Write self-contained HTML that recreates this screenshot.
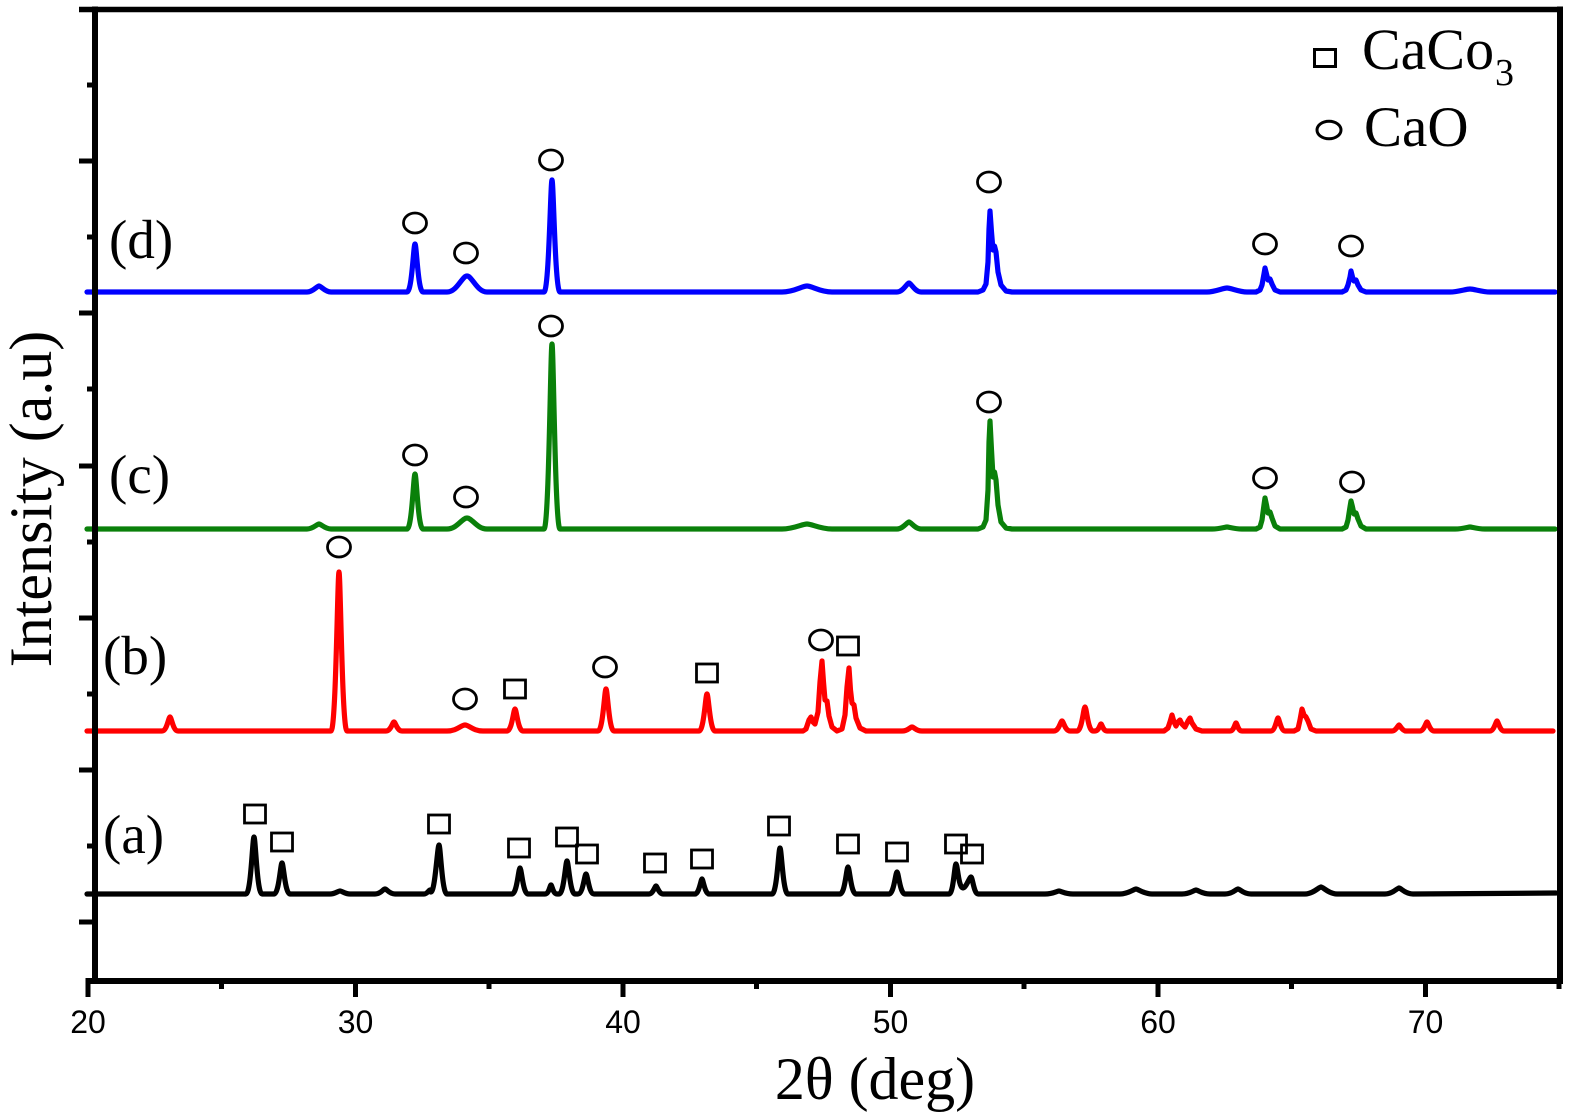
<!DOCTYPE html>
<html>
<head>
<meta charset="utf-8">
<style>
  html,body{margin:0;padding:0;background:#fff;}
  svg{display:block;}
  .serif{font-family:"Liberation Serif","Times New Roman",serif;fill:#000;}
  .sans{font-family:"Liberation Sans",Arial,sans-serif;fill:#000;}
</style>
</head>
<body>
<svg width="1575" height="1119" viewBox="0 0 1575 1119" xmlns="http://www.w3.org/2000/svg">
  <rect x="0" y="0" width="1575" height="1119" fill="#fff"/>

  <!-- Curves -->
  <g fill="none" stroke-width="5.2" stroke-linejoin="round" stroke-linecap="round">
    <!-- (a) black -->
    <path stroke="#000" d="M87,894
      L246,894 c5,0 6.5,-57 8,-57 c1.5,0 3,57 8,57
      L274,894 c5,0 6.5,-31 8,-31 c1.5,0 3,31 8,31
      L330,894 c5,0 8,-3 10,-3 c2,0 5,3 10,3
      L375,894 c6,0 8,-5 10,-5 c2,0 4,5 10,5
      L424,894 c3,0 5,-4 6,-4 c1,0 1,2 1,2
      L431,892 c4,0 6.5,-47 8,-47 c1.5,0 3,49 8,49
      L512,894 c5,0 6.5,-26 8,-26 c1.5,0 3,26 8,26
      L545,894 c4,0 5,-9 6,-9 c1,0 2,9 6,9
      L559,894 c5,0 6.5,-33 8,-33 c1.5,0 3,33 8,33
      L578,894 c5,0 6.5,-20 8,-20 c1.5,0 3,20 8,20
      L649,894 c4,0 6,-8 7,-8 c1,0 3,8 7,8
      L695,894 c4,0 6,-15 7,-15 c1,0 3,15 7,15
      L772,894 c5,0 6.5,-46 8,-46 c1.5,0 3,46 8,46
      L840,894 c5,0 6.5,-27 8,-27 c1.5,0 3,27 8,27
      L889,894 c5,0 6.5,-22 8,-22 c1.5,0 3,22 8,22
      L949,894 c4.5,0 5.5,-30 7,-30 c1.5,0 2.5,24 7,24
      c3,0 6.5,-11 8,-11 c1.5,0 3,17 7,17
      L1045,894 c8,0 12,-3 14,-3 c2,0 6,3 14,3
      L1120,894 c8,0 14,-5 16,-5 c2,0 8,5 16,5
      L1182,894 c8,0 12,-4 14,-4 c2,0 6,4 14,4
      L1225,894 c8,0 11,-5 13,-5 c2,0 5,5 13,5
      L1305,894 c8,0 14,-7 16,-7 c2,0 8,7 16,7
      L1385,894 c8,0 12,-6 14,-6 c2,0 6,6 14,6
      L1556,893"/>

    <!-- (b) red -->
    <path stroke="#ff0000" d="M87,731
      L162,731 c5,0 6.5,-14 8,-14 c1.5,0 3,14 8,14
      L331,731 c5,0 6.5,-159 8,-159 c1.5,0 3,159 8,159
      L386,731 c5,0 6.5,-9 8,-9 c1.5,0 3,9 8,9
      L447,731 c10,0 14,-6 18,-6 c4,0 8,6 18,6
      L507,731 c5,0 6.5,-22 8,-22 c1.5,0 3,22 8,22
      L598,731 c5,0 6.5,-42 8,-42 c1.5,0 3,42 8,42
      L699,731 c5,0 6.5,-37 8,-37 c1.5,0 3,37 8,37
      L803,731 L806,729 L809,720 L811,717 L813,722 L815,724 L818,712 L820,682 L822,661
      L823.5,682 L825,700 L827,701 L829,716 L832,727 L837,731
      L842,729 L845,715 L847,687 L849,668 L850.5,690 L852,703 L854,705 L856,718 L860,728 L866,731
      L902,731 c6,0 8,-4 10,-4 c2,0 4,4 10,4
      L1054,731 c5,0 6.5,-10 8,-10 c1.5,0 3,10 8,10
      L1077,731 c5,0 6.5,-24 8,-24 c1.5,0 3,24 8,24
      L1095,731 c4,0 5,-7 6,-7 c1,0 2,7 6,7
      L1164,731 L1168,728 L1170,722 L1172,715 L1174,722 L1176,726 L1178,722 L1180,720 L1182,724
      L1185,727 L1188,721 L1190,718 L1192,723 L1196,729 L1202,731
      L1230,731 c4,0 5,-8 6,-8 c1,0 2,8 6,8
      L1271,731 c4,0 6,-13 7,-13 c1,0 3,13 7,13
      L1294,731 L1298,729 L1300,720 L1302,709 L1304,715 L1306,717 L1308,721 L1311,729 L1316,731
      L1392,731 c4,0 6,-6 7,-6 c1,0 3,6 7,6
      L1420,731 c4,0 6,-9 7,-9 c1,0 3,9 7,9
      L1490,731 c4,0 6,-10 7,-10 c1,0 3,10 7,10
      L1553,731"/>

    <!-- (c) green -->
    <path stroke="#0a800a" d="M87,529
      L307,529 c6,0 10,-5 12,-5 c2,0 6,5 12,5
      L407,529 c5,0 6.5,-55 8,-55 c1.5,0 3,55 8,55
      L447,529 c10,0 15,-11 20,-11 c5,0 10,11 20,11
      L544,529 c5,0 6.5,-185 8,-185 c1.5,0 3,185 8,185
      L782,529 c12,0 20,-5 25,-5 c5,0 13,5 25,5
      L897,529 c6,0 10,-7 12,-7 c2,0 6,7 12,7
      L978,529 L983,527 L986,520 L988,490 L989,442 L990,421 L991.5,450 L993,477 L994.5,472
      L996,480 L998,505 L1001,522 L1006,528 L1012,529
      L1212,529 c8,0 13,-2 15,-2 c2,0 7,2 15,2
      L1256,529 L1260,527 L1262,520 L1264,505 L1265,498 L1266.5,505 L1268,513 L1270,512
      L1272,518 L1275,526 L1280,529
      L1342,529 L1346,527 L1348,520 L1350,507 L1351,501 L1352.5,507 L1354,514 L1356,513
      L1358,519 L1361,526 L1366,529
      L1455,529 c8,0 13,-2 15,-2 c2,0 7,2 15,2
      L1555,529"/>

    <!-- (d) blue -->
    <path stroke="#0000ff" d="M87,292
      L307,292 c6,0 10,-6 12,-6 c2,0 6,6 12,6
      L407,292 c5,0 6.5,-48 8,-48 c1.5,0 3,48 8,48
      L447,292 c10,0 15,-16 20,-16 c5,0 10,16 20,16
      L544,292 c5,0 6.5,-112 8,-112 c1.5,0 3,112 8,112
      L782,292 c12,0 20,-6 25,-6 c5,0 13,6 25,6
      L897,292 c6,0 10,-9 12,-9 c2,0 6,9 12,9
      L978,292 L983,290 L986,284 L988,262 L989,229 L990,211 L991.5,232 L993,250 L994.5,246
      L996,252 L998,272 L1001,285 L1006,291 L1012,292
      L1207,292 c8,0 16,-4 20,-4 c4,0 12,4 20,4
      L1256,292 L1260,290 L1262,285 L1264,274 L1265,268 L1266.5,274 L1268,280 L1270,279
      L1272,284 L1275,290 L1280,292
      L1342,292 L1346,290 L1348,285 L1350,277 L1351,271 L1352.5,277 L1354,281 L1356,280
      L1358,285 L1361,290 L1366,292
      L1450,292 c8,0 16,-3 20,-3 c4,0 12,3 20,3
      L1555,292"/>
  </g>

  <!-- Markers -->
  <g fill="none" stroke="#000" stroke-width="2.8">
    <!-- squares (a) -->
    <rect x="244.5" y="805" width="21" height="18"/>
    <rect x="271.5" y="833" width="21" height="18"/>
    <rect x="428.5" y="815" width="21" height="18"/>
    <rect x="508.5" y="839" width="21" height="18"/>
    <rect x="556.5" y="828" width="21" height="18"/>
    <rect x="576.5" y="845" width="21" height="18"/>
    <rect x="644.5" y="854" width="21" height="18"/>
    <rect x="691.5" y="850" width="21" height="18"/>
    <rect x="768.5" y="817" width="21" height="18"/>
    <rect x="837.5" y="835" width="21" height="18"/>
    <rect x="886.5" y="843" width="21" height="18"/>
    <rect x="945.5" y="835" width="21" height="18"/>
    <rect x="961.5" y="845" width="21" height="18"/>
    <!-- (b) -->
    <ellipse cx="339" cy="547" rx="11.5" ry="10"/>
    <ellipse cx="465" cy="699" rx="11.5" ry="10"/>
    <rect x="504.5" y="680" width="21" height="18"/>
    <ellipse cx="605" cy="667" rx="11.5" ry="10"/>
    <rect x="696.5" y="664" width="21" height="18"/>
    <ellipse cx="821" cy="640" rx="11.5" ry="10"/>
    <rect x="837.5" y="637" width="21" height="18"/>
    <!-- (c) -->
    <ellipse cx="415" cy="455" rx="11.5" ry="10"/>
    <ellipse cx="466" cy="497" rx="11.5" ry="10"/>
    <ellipse cx="551" cy="326" rx="11.5" ry="10"/>
    <ellipse cx="989" cy="402" rx="11.5" ry="10"/>
    <ellipse cx="1265" cy="478" rx="11.5" ry="10"/>
    <ellipse cx="1352" cy="482" rx="11.5" ry="10"/>
    <!-- (d) -->
    <ellipse cx="415" cy="223" rx="11.5" ry="10"/>
    <ellipse cx="466" cy="253" rx="11.5" ry="10"/>
    <ellipse cx="551" cy="160" rx="11.5" ry="10"/>
    <ellipse cx="989" cy="182" rx="11.5" ry="10"/>
    <ellipse cx="1265" cy="244" rx="11.5" ry="10"/>
    <ellipse cx="1351" cy="246" rx="11.5" ry="10"/>
    <!-- legend -->
    <rect x="1314.5" y="49.5" width="21" height="17" stroke-width="3"/>
    <ellipse cx="1329" cy="130" rx="12" ry="8.8" stroke-width="3"/>
  </g>

  <!-- Axes frame -->
  <g stroke="#000" fill="none" stroke-linecap="butt">
    <line x1="95" y1="6.5" x2="95" y2="984" stroke-width="6"/>
    <line x1="1560" y1="6.5" x2="1560" y2="984" stroke-width="6"/>
    <line x1="79" y1="9.5" x2="1563" y2="9.5" stroke-width="5.5"/>
    <line x1="85.5" y1="981" x2="1563" y2="981" stroke-width="6"/>
    <g stroke-width="5">
      <line x1="88" y1="981" x2="88" y2="997"/>
      <line x1="355.5" y1="981" x2="355.5" y2="997"/>
      <line x1="623" y1="981" x2="623" y2="997"/>
      <line x1="890.5" y1="981" x2="890.5" y2="997"/>
      <line x1="1158" y1="981" x2="1158" y2="997"/>
      <line x1="1425.5" y1="981" x2="1425.5" y2="997"/>
      <line x1="221.5" y1="981" x2="221.5" y2="989"/>
      <line x1="489" y1="981" x2="489" y2="989"/>
      <line x1="756.5" y1="981" x2="756.5" y2="989"/>
      <line x1="1024" y1="981" x2="1024" y2="989"/>
      <line x1="1291.5" y1="981" x2="1291.5" y2="989"/>
      <line x1="1559" y1="981" x2="1559" y2="989"/>
      <line x1="79" y1="161" x2="95" y2="161"/>
      <line x1="79" y1="313" x2="95" y2="313"/>
      <line x1="79" y1="466" x2="95" y2="466"/>
      <line x1="79" y1="618" x2="95" y2="618"/>
      <line x1="79" y1="770" x2="95" y2="770"/>
      <line x1="79" y1="922" x2="95" y2="922"/>
      <line x1="87" y1="85" x2="95" y2="85"/>
      <line x1="87" y1="237" x2="95" y2="237"/>
      <line x1="87" y1="389" x2="95" y2="389"/>
      <line x1="87" y1="542" x2="95" y2="542"/>
      <line x1="87" y1="694" x2="95" y2="694"/>
      <line x1="87" y1="846" x2="95" y2="846"/>
    </g>
  </g>

  <!-- Tick labels -->
  <g class="sans" font-size="32" text-anchor="middle">
    <text x="88" y="1033">20</text>
    <text x="355.5" y="1033">30</text>
    <text x="623" y="1033">40</text>
    <text x="890.5" y="1033">50</text>
    <text x="1158" y="1033">60</text>
    <text x="1425.5" y="1033">70</text>
  </g>

  <!-- Axis titles -->
  <text class="serif" font-size="60" x="875" y="1099" text-anchor="middle">2θ (deg)</text>
  <text class="serif" font-size="60" text-anchor="middle" transform="translate(51,499) rotate(-90)">Intensity (a.u)</text>

  <!-- Series labels -->
  <g class="serif" font-size="55">
    <text x="109" y="258">(d)</text>
    <text x="109" y="493">(c)</text>
    <text x="103" y="674">(b)</text>
    <text x="103" y="853">(a)</text>
  </g>

  <!-- Legend text -->
  <text class="serif" font-size="58" x="1362" y="69">CaCo</text>
  <text class="serif" font-size="38" x="1495" y="85">3</text>
  <text class="serif" font-size="57" x="1364" y="146">CaO</text>
</svg>
</body>
</html>
